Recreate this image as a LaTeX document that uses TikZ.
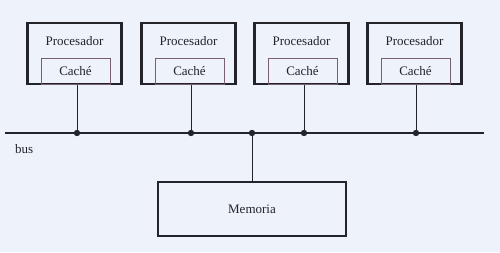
\documentclass[tikz,border=0pt]{standalone}
\usepackage{fontspec}
\setmainfont{Liberation Serif}
\definecolor{paper}{RGB}{238,242,250}
\definecolor{ink}{RGB}{35,35,42}
\definecolor{cacheline}{RGB}{120,95,110}
\begin{document}
\begin{tikzpicture}[x=1pt,y=-1pt,
  every node/.style={font=\rmfamily\fontsize{13}{15}\selectfont, text=ink},
  procbox/.style={draw=ink, line width=2.2pt, minimum width=94pt, minimum height=61pt, inner sep=0pt},
  cachebox/.style={draw=cacheline, line width=0.8pt, minimum width=69pt, minimum height=26pt, inner sep=0pt},
  membox/.style={draw=ink, line width=2.2pt, minimum width=188pt, minimum height=54pt, inner sep=0pt},
  busline/.style={draw=ink, line width=2.4pt},
  tap/.style={draw=ink, line width=1pt},
  junction/.style={fill=ink}]
  % page
  \fill[paper] (0,0) rectangle (500,252);
  \useasboundingbox (0,0) rectangle (500,252);

  % processors with their caches
  \foreach \i/\cx/\lx in {1/74.5/77, 2/188.5/191, 3/301.5/304, 4/414.5/416} {
    \node[procbox] (p\i) at (\cx,53.5) {};
    \node[cachebox] (c\i) at (\cx+1,71) {Caché};
    \node (t\i) at (\cx,41) {Procesador};
    \coordinate (d\i) at (\lx,133);
  }

  % bus
  \coordinate (busL) at (5,133);
  \coordinate (busR) at (484,133);
  \coordinate (dm) at (252,133);
  \draw[busline] (busL) -- (busR);
  \node[anchor=west, inner sep=0pt] (buslbl) at (15,149) {bus};

  % memory
  \node[membox] (mem) at (252,209) {Memoria};

  % taps onto the bus
  \foreach \i in {1,...,4} {
    \draw[tap] (p\i.south -| d\i) -- (d\i);
    \fill[junction] (d\i) circle (3.2pt);
  }
  \draw[tap] (dm) -- (mem.north -| dm);
  \fill[junction] (dm) circle (3.2pt);
\end{tikzpicture}
\end{document}
